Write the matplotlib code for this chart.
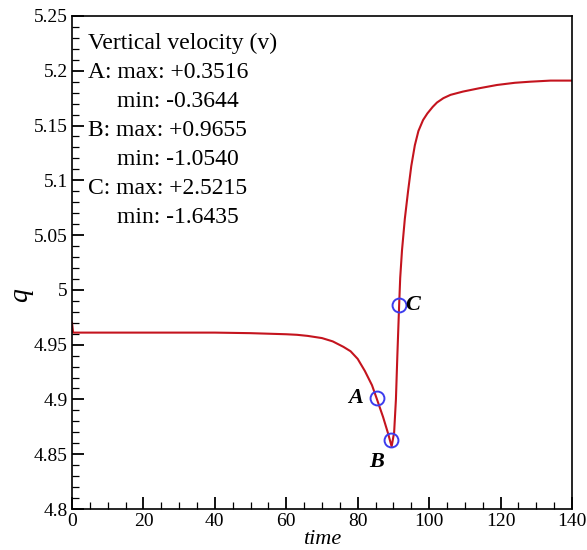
import numpy as np
import matplotlib
matplotlib.use('Agg')
import matplotlib.pyplot as plt
from matplotlib.ticker import MultipleLocator

plt.rcParams['font.family'] = ['Liberation Serif', 'DejaVu Serif']

# curve
time = [0, 0.3, 10, 20, 30, 40, 50, 55, 60, 63, 66, 70, 73, 76, 78, 80, 82,
        84, 85.3, 87.1, 88.5, 89.5, 90.2, 90.7, 91.1, 91.6, 91.9, 92.4, 93.2,
        94.1, 95, 96, 97, 98.3, 99.5, 101, 102.2, 104, 106, 109.5, 114, 119,
        124, 128.3, 134, 140]
q = [4.970, 4.961, 4.961, 4.961, 4.961, 4.961, 4.9605, 4.960, 4.9595, 4.959,
     4.958, 4.956, 4.953, 4.948, 4.944, 4.937, 4.926, 4.913, 4.901, 4.884,
     4.869, 4.857, 4.870, 4.900, 4.940, 4.986, 5.011, 5.036, 5.065, 5.090,
     5.113, 5.132, 5.145, 5.155, 5.161, 5.167, 5.171, 5.175, 5.178, 5.181,
     5.184, 5.187, 5.189, 5.190, 5.191, 5.191]

# probe points
pt_name = ['A', 'B', 'C']
pt_time = [85.3, 89.3, 91.6]
pt_q = [4.901, 4.863, 4.986]

info_lines = ['Vertical velocity (v)',
              'A: max: +0.3516', 'min: -0.3644',
              'B: max: +0.9655', 'min: -1.0540',
              'C: max: +2.5215', 'min: -1.6435']

fig = plt.figure(figsize=(5.87, 5.5), dpi=100)
ax = fig.add_axes([0.1227, 0.0745, 0.8517, 0.8965])

ax.plot(time, q, color='#c4141e', lw=1.5, zorder=2)
ax.plot(pt_time, pt_q, 'o', ms=10, mfc='none', mec='#3c3cee', mew=1.4, zorder=3)

lab_kw = dict(fontsize=16, fontweight='bold', style='italic', va='center')
ax.text(pt_time[0] - 3.8, pt_q[0], pt_name[0], ha='right', **lab_kw)
ax.text(pt_time[1] - 3.9, pt_q[1] - 0.02, pt_name[1], ha='center', **lab_kw)
ax.text(pt_time[2] + 1.6, pt_q[2], pt_name[2], ha='left', **lab_kw)

for i, line in enumerate(info_lines):
    x0 = 0.09 if line.startswith('min') else 0.032
    ax.text(x0, 0.945 - i * 0.0588, line, transform=ax.transAxes,
            ha='left', va='center', fontsize=17)

ax.set_xlim(0, 140)
ax.set_ylim(4.8, 5.25)
ax.xaxis.set_major_locator(MultipleLocator(20))
ax.xaxis.set_minor_locator(MultipleLocator(5))
ax.yaxis.set_minor_locator(MultipleLocator(0.01))
ax.set_yticks(np.arange(4.8, 5.2501, 0.05))
ax.set_yticklabels(['4.8', '4.85', '4.9', '4.95', '5', '5.05', '5.1', '5.15', '5.2', '5.25'])
ax.tick_params(which='major', direction='in', length=8.5, width=1.3, labelsize=14, pad=3)
ax.tick_params(which='minor', direction='in', length=5, width=0.9)
for s in ax.spines.values():
    s.set_linewidth(1.2)

ax.set_xlabel('time', fontsize=16, style='italic', labelpad=0)
ax.set_ylabel('q', fontsize=20, style='italic')
ax.yaxis.set_label_coords(-0.078, 0.434)

fig.savefig('out.png', dpi=100)
